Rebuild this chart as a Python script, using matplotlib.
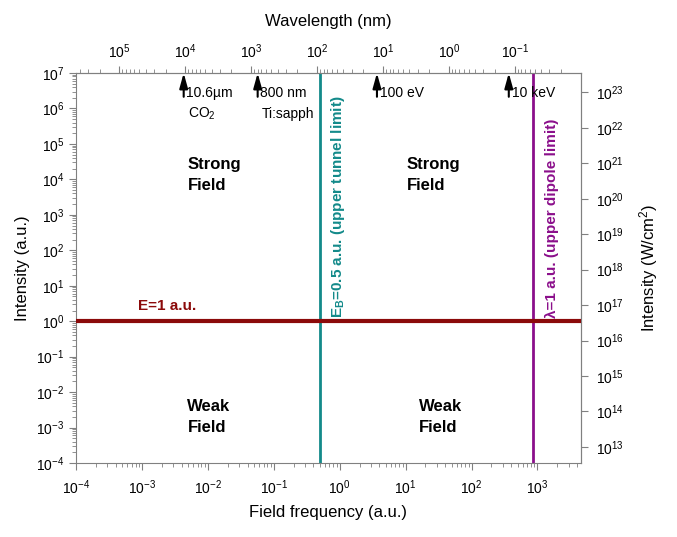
import matplotlib
matplotlib.use('Agg')
import matplotlib.pyplot as plt
import matplotlib.ticker as mticker
import numpy as np

plt.rcParams['font.family'] = ['Liberation Sans', 'DejaVu Sans']
plt.rcParams['mathtext.fontset'] = 'custom'
plt.rcParams['mathtext.rm'] = 'Liberation Sans'
plt.rcParams['mathtext.it'] = 'Liberation Sans:italic'
plt.rcParams['mathtext.bf'] = 'Liberation Sans:bold'
plt.rcParams['axes.unicode_minus'] = False

# conversions (atomic units)
NM_PER_AU = 45.5634     # wavelength(nm) = NM_PER_AU / omega(a.u.)
WCM2_PER_AU = 3.51e16   # intensity W/cm^2 per a.u.
EV_PER_AU = 27.2114

# data
x_range = [1e-4, 4556]
y_range = [1e-4, 1e7]
field_line = 1.0           # E = 1 a.u.
tunnel_limit = 0.5         # E_B = 0.5 a.u.
dipole_limit = 2 * np.pi * 137.036   # lambda = 1 a.u.
x_ticks = [1e-4, 1e-3, 1e-2, 1e-1, 1e0, 1e1, 1e2, 1e3]
y_ticks = [1e-4, 1e-3, 1e-2, 1e-1, 1e0, 1e1, 1e2, 1e3, 1e4, 1e5, 1e6, 1e7]
wl_ticks = [1e5, 1e4, 1e3, 1e2, 1e1, 1e0, 1e-1]
wcm2_ticks = [1e13, 1e14, 1e15, 1e16, 1e17, 1e18, 1e19, 1e20, 1e21, 1e22, 1e23]
arrow_labels = ['10.6µm', '800 nm', '100 eV', '10 keV']
arrow_sub = [r'CO$_2$', 'Ti:sapph', '', '']
arrow_freq = [NM_PER_AU / 10600, NM_PER_AU / 800, 100 / EV_PER_AU, 10000 / EV_PER_AU]

gray = '#808080'
teal = '#138a8a'
purple = '#8b0f8b'
darkred = '#8b0a0a'

fig = plt.figure(figsize=(6.77, 5.37), dpi=100)
ax = fig.add_axes([0.1123, 0.1378, 0.858 - 0.1123, 0.864 - 0.1378])
ax.set_xscale('log')
ax.set_yscale('log')
ax.set_xlim(x_range)
ax.set_ylim(y_range)
ax.set_xticks(x_ticks)
ax.set_yticks(y_ticks)
ax.xaxis.set_minor_locator(mticker.LogLocator(base=10, subs=np.arange(2, 10), numticks=30))
ax.yaxis.set_minor_locator(mticker.LogLocator(base=10, subs=np.arange(2, 10), numticks=30))
ax.xaxis.set_minor_formatter(mticker.NullFormatter())
ax.yaxis.set_minor_formatter(mticker.NullFormatter())

ax.axhline(field_line, color=darkred, lw=3, zorder=3)
ax.axvline(tunnel_limit, color=teal, lw=2)
ax.axvline(dipole_limit, color=purple, lw=2)

ax.text(10**-3.06, 10**0.42, 'E=1 a.u.', color=darkred, fontsize=11,
        fontweight='bold', ha='left', va='center')
ax.text(0.93, 10**0.08, r'$\mathbf{E_B}$=0.5 a.u. (upper tunnel limit)', color=teal,
        fontsize=11, fontweight='bold', rotation=90, ha='center', va='bottom')
ax.text(1680, 10**0.08, 'λ=1 a.u. (upper dipole limit)', color=purple,
        fontsize=11, fontweight='bold', rotation=90, ha='center', va='bottom')

for xs, ys, txt in [(10**-2.31, 10**4.12, 'Strong\nField'),
                    (10**1.02, 10**4.12, 'Strong\nField'),
                    (10**-2.31, 10**-2.70, 'Weak\nField'),
                    (10**1.20, 10**-2.70, 'Weak\nField')]:
    ax.text(xs, ys, txt, fontsize=12, fontweight='bold', ha='left', va='center',
            linespacing=1.5)

for f, lab, sub in zip(arrow_freq, arrow_labels, arrow_sub):
    ax.annotate('', xy=(f, 1e7), xytext=(f, 10**6.33),
                arrowprops=dict(arrowstyle='-|>,head_length=0.9,head_width=0.25',
                                color='k', lw=1.5, shrinkA=0, shrinkB=0))
    ax.annotate(lab, xy=(f, 10**6.45), xytext=(2, 0), textcoords='offset points',
                fontsize=10, ha='left', va='center')
    if sub:
        ax.annotate(sub, xy=(f, 10**5.84), xytext=(3, 0), textcoords='offset points',
                    fontsize=10, ha='left', va='center')

for s in ax.spines.values():
    s.set_color(gray)
ax.tick_params(which='both', direction='out', color=gray, labelsize=10)
ax.tick_params(which='major', length=5)
ax.tick_params(which='minor', length=3)
ax.tick_params(axis='x', pad=6)
ax.set_xlabel('Field frequency (a.u.)', fontsize=12, labelpad=6)
ax.set_ylabel('Intensity (a.u.)', fontsize=12)

wl = lambda w: NM_PER_AU / np.asarray(w, dtype=float)
top = ax.secondary_xaxis('top', functions=(wl, wl))
top.set_xticks(wl_ticks)
top.tick_params(which='both', direction='out', color=gray, labelsize=10)
top.tick_params(which='major', length=5)
top.tick_params(which='minor', length=3)
top.spines['top'].set_color(gray)
top.set_xlabel('Wavelength (nm)', fontsize=12, labelpad=12)

right = ax.secondary_yaxis('right', functions=(lambda i: np.asarray(i, dtype=float) * WCM2_PER_AU,
                                                lambda i: np.asarray(i, dtype=float) / WCM2_PER_AU))
right.set_yticks(wcm2_ticks)
right.tick_params(which='both', direction='out', color=gray, labelsize=10)
right.tick_params(which='major', length=5, pad=6)
right.tick_params(which='minor', length=3)
right.spines['right'].set_color(gray)
right.set_ylabel(r'Intensity (W/cm$^2$)', fontsize=12, labelpad=9)

fig.savefig('out.png', dpi=100)
